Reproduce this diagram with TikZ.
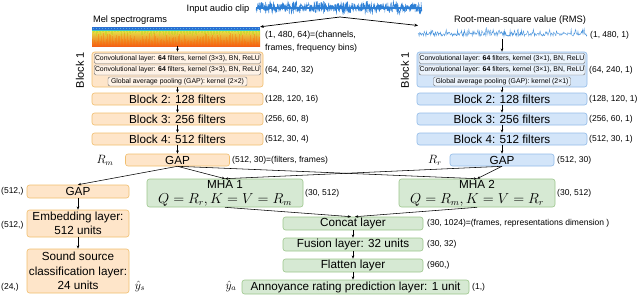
\documentclass[tikz,border=0pt]{standalone}
\usepackage{fontspec}
\setmainfont{Liberation Sans}
\usetikzlibrary{arrows.meta}
\definecolor{orfill}{HTML}{FEE5C9}
\definecolor{ordraw}{HTML}{F0BE6E}
\definecolor{blfill}{HTML}{D3E5F9}
\definecolor{bldraw}{HTML}{92BBE8}
\definecolor{grfill}{HTML}{D6E9D3}
\definecolor{grdraw}{HTML}{9CC68C}
\definecolor{wavec}{HTML}{2E80D6}
\definecolor{rmsc}{HTML}{4A94DC}
\definecolor{specblue}{HTML}{2A70D2}
\definecolor{specred}{HTML}{F2601A}
\definecolor{specorg}{HTML}{F9B030}
\definecolor{specyel}{HTML}{E6E84A}
\definecolor{speccyan}{HTML}{40C8C8}
\begin{document}
\begin{tikzpicture}[x=1pt,y=-1pt,
 box/.style={rounded corners=2.5pt, line width=0.6pt, inner sep=0pt, align=center, font=\fontsize{11.7}{14.5}\selectfont},
 obox/.style={box, fill=orfill, draw=ordraw},
 bbox/.style={box, fill=blfill, draw=bldraw},
 gbox/.style={box, fill=grfill, draw=grdraw},
 convL/.style={rounded corners=2pt, line width=0.45pt, draw=black!55, fill=white!55!orfill, inner sep=0pt, font=\fontsize{6.9}{8}\selectfont},
 convR/.style={convL, fill=white!55!blfill},
 ann/.style={anchor=west, inner sep=0pt, font=\fontsize{8.5}{10}\selectfont},
 ttl/.style={inner sep=0pt, font=\fontsize{9.3}{11}\selectfont},
 blabel/.style={inner sep=0pt, rotate=90, font=\fontsize{11}{12}\selectfont},
 arr/.style={line width=0.55pt, -{Stealth[length=3.2pt,width=2.6pt]}},
]
\useasboundingbox (0,0) rectangle (640,295);
\pgfmathsetseed{7}
% ---------- input audio ----------
\node[ttl] (inlab) at (218,9) {Input audio clip};
\draw[wavec, line width=0.45pt] plot[domain=256:422, samples=600] (\x,{7.5+rand*(2+3.5*abs(sin(7*\x+20))+2*rnd)});
\draw[wavec, line width=2pt] (256,7.5) -- (422,7.5);
\coordinate (wv) at (340,17);
% ---------- spectrogram ----------
\node[ttl] (mellab) at (130,20) {Mel spectrograms};
\shade[top color=specyel, middle color=specorg, bottom color=specred] (92,30) rectangle (260,46);
\foreach \i in {0,...,111} {
  \pgfmathsetmacro\xx{92.7+\i*1.5}
  \pgfmathsetmacro\hh{3+rnd*10}
  \draw[orange!85!red, opacity=0.35, line width=0.5pt] (\xx,46) -- (\xx,46-\hh);
  \pgfmathsetmacro\hb{31+rnd*5}
  \draw[yellow!70!green, opacity=0.45, line width=0.4pt] (\xx,31) -- (\xx,\hb);
}
\fill[speccyan] (92,29.6) rectangle (260,31);
\fill[specblue] (92,27) rectangle (260,30);
\foreach \i in {0,...,55} {
  \pgfmathsetmacro\xx{93+\i*3}
  \fill[cyan!60, opacity=0.7] (\xx,28) rectangle ++(1,1);
}
\node[inner sep=0pt, minimum width=168pt, minimum height=19pt] (spec) at (176,36.5) {};
\node[ann, align=left, font=\fontsize{8.8}{13}\selectfont] (annin) at (265,41.5) {(1, 480, 64)=(channels,\\frames, frequency bins)};
% ---------- RMS ----------
\node[ttl] (rmslab) at (520,20) {Root-mean-square value (RMS)};
\draw[rmsc, line width=0.4pt] plot[domain=418:587, samples=300] (\x,{36.5-2.5*rnd-7*rnd*rnd});
\node[inner sep=0pt, minimum width=169pt, minimum height=13pt] (rms) at (502.5,31.5) {};
\node[ann] (annrms) at (590,35) {(1, 480, 1)};
\coordinate (rmsin) at (418,25.5);
\draw[line width=0.7pt, -{Stealth[length=3.5pt,width=3pt]}] (wv) -- (spec.north east);
\draw[line width=0.7pt, -{Stealth[length=3.5pt,width=3pt]}] (wv) -- (rmsin);
% ---------- left column ----------
\node[obox, minimum width=171pt, minimum height=35pt] (c1L) at (177.5,69.5) {};
\node[convL, minimum width=166.5pt, minimum height=10pt] (cv1L) at (177.5,58.5) {Convolutional layer: \textbf{64} filters, kernel (3×3), BN, ReLU};
\node[convL, minimum width=166.5pt, minimum height=10pt] (cv2L) at (177.5,70) {Convolutional layer: \textbf{64} filters, kernel (3×3), BN, ReLU};
\node[convL, minimum width=139pt, minimum height=9pt] (gp1L) at (177.5,81.5) {Global average pooling (GAP): kernel (2×2)};
\node[blabel] (lb1L) at (80,70) {Block 1};
\node[obox, minimum width=171pt, minimum height=12pt] (b2L) at (177.5,99) {Block 2: 128 filters};
\node[obox, minimum width=171pt, minimum height=12pt] (b3L) at (177.5,119) {Block 3: 256 filters};
\node[obox, minimum width=171pt, minimum height=12pt] (b4L) at (177.5,139) {Block 4: 512 filters};
\node[obox, minimum width=104pt, minimum height=12pt] (gapm) at (177.5,160) {GAP};
\node[inner sep=0pt, font=\fontsize{12}{13}\selectfont] (rmlab) at (105,160) {$R_m$};
\draw[arr] (177.5,46) -- (c1L.north);
\draw[arr] (c1L.south) -- (b2L.north);
\draw[arr] (b2L.south) -- (b3L.north);
\draw[arr] (b3L.south) -- (b4L.north);
\draw[arr] (b4L.south) -- (gapm.north);
\node[ann] (a1L) at (265,70) {(64, 240, 32)};
\node[ann] (a2L) at (265,99) {(128, 120, 16)};
\node[ann] (a3L) at (265,119) {(256, 60, 8)};
\node[ann] (a4L) at (265,139) {(512, 30, 4)};
\node[ann] (a5L) at (232,160) {(512, 30)=(filters, frames)};
% ---------- right column ----------
\node[bbox, minimum width=170pt, minimum height=35pt] (c1R) at (502,69.5) {};
\node[convR, minimum width=166pt, minimum height=10pt] (cv1R) at (502,58.5) {Convolutional layer: \textbf{64} filters, kernel (3×1), BN, ReLU};
\node[convR, minimum width=166pt, minimum height=10pt] (cv2R) at (502,70) {Convolutional layer: \textbf{64} filters, kernel (3×1), BN, ReLU};
\node[convR, minimum width=137pt, minimum height=9pt] (gp1R) at (502,81.5) {Global average pooling (GAP): kernel (2×1)};
\node[blabel] (lb1R) at (405,70) {Block 1};
\node[bbox, minimum width=170pt, minimum height=12pt] (b2R) at (502,99) {Block 2: 128 filters};
\node[bbox, minimum width=170pt, minimum height=12pt] (b3R) at (502,119) {Block 3: 256 filters};
\node[bbox, minimum width=170pt, minimum height=12pt] (b4R) at (502,139) {Block 4: 512 filters};
\node[bbox, minimum width=104pt, minimum height=12pt] (gapr) at (502,160) {GAP};
\node[inner sep=0pt, font=\fontsize{12}{13}\selectfont] (rrlab) at (435,160) {$R_r$};
\draw[arr] (502,38.5) -- (c1R.north);
\draw[arr] (c1R.south) -- (b2R.north);
\draw[arr] (b2R.south) -- (b3R.north);
\draw[arr] (b3R.south) -- (b4R.north);
\draw[arr] (b4R.south) -- (gapr.north);
\node[ann] (a1R) at (589,70) {(64, 240, 1)};
\node[ann] (a2R) at (589,99) {(128, 120, 1)};
\node[ann] (a3R) at (589,119) {(256, 60, 1)};
\node[ann] (a4R) at (589,139) {(512, 30, 1)};
\node[ann] (a5R) at (557,160) {(512, 30)};
% ---------- sound source branch ----------
\node[obox, minimum width=102pt, minimum height=13pt] (lgap) at (78,191.5) {GAP};
\node[obox, minimum width=102pt, minimum height=27pt] (emb) at (78,223.5) {Embedding layer:\\512 units};
\node[obox, minimum width=102pt, minimum height=44pt] (snd) at (78,271) {Sound source\\classification layer:\\24 units};
\draw[arr] (lgap.south) -- (emb.north);
\draw[arr] (emb.south) -- (snd.north);
\node[ann] (as1) at (1,191) {(512,)};
\node[ann] (as2) at (1,225) {(512,)};
\node[ann] (as3) at (1,287) {(24,)};
\node[inner sep=0pt, font=\fontsize{12}{13}\selectfont] (ys) at (140,286) {$\hat{y}_s$};
% ---------- attention ----------
\node[gbox, minimum width=156pt, minimum height=28pt] (mha1) at (225,193) {MHA 1\\[0.5pt]{\fontsize{13.5}{14}\selectfont$Q=R_r, K=V=R_m$}};
\node[gbox, minimum width=156pt, minimum height=28pt] (mha2) at (477,193) {MHA 2\\[0.5pt]{\fontsize{13.5}{14}\selectfont$Q=R_m, K=V=R_r$}};
\node[ann] (am1) at (305,193) {(30, 512)};
\node[ann] (am2) at (557,193) {(30, 512)};
\draw[arr] (gapm.south) -- (lgap.north);
\draw[arr] (gapm.south) -- (mha1.north);
\draw[arr] (gapm.south) -- (mha2.north);
\draw[arr] (gapr.south) -- (mha2.north);
\draw[arr] (gapr.south) -- (mha1.north);
% ---------- annoyance branch ----------
\node[gbox, minimum width=140pt, minimum height=13pt] (concat) at (353,223.5) {Concat layer};
\node[gbox, minimum width=140pt, minimum height=13pt] (fusion) at (353,244.5) {Fusion layer: 32 units};
\node[gbox, minimum width=140pt, minimum height=13pt] (flat) at (353,265.5) {Flatten layer};
\node[gbox, minimum width=227pt, minimum height=14pt] (annoy) at (355.5,287) {Annoyance rating prediction layer: 1 unit};
\draw[arr] (mha1.south) -- ([xshift=-2pt]concat.north);
\draw[arr] (mha2.south) -- ([xshift=2pt]concat.north);
\draw[arr] (concat.south) -- (fusion.north);
\draw[arr] (fusion.south) -- (flat.north);
\draw[arr] (flat.south) -- (flat.south |- annoy.north);
\node[ann] (ac1) at (427,223.5) {(30, 1024)=(frames, representations dimension )};
\node[ann] (ac2) at (427,244.5) {(30, 32)};
\node[ann] (ac3) at (427,265.5) {(960,)};
\node[ann] (ac4) at (472,287) {(1,)};
\node[inner sep=0pt, font=\fontsize{12}{13}\selectfont] (ya) at (231,286) {$\hat{y}_a$};
\end{tikzpicture}
\end{document}
